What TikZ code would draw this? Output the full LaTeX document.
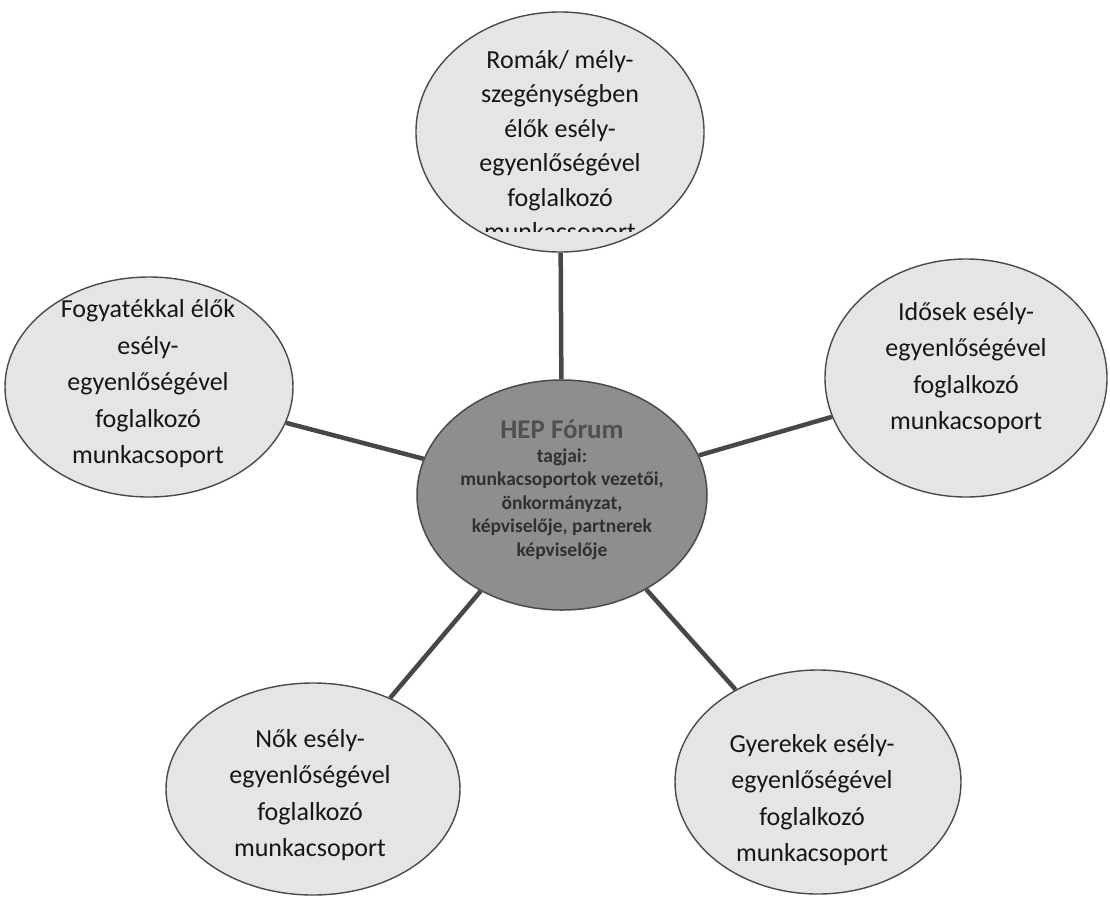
\documentclass[tikz,border=0pt]{standalone}
\usepackage{fontspec}
\setmainfont{Carlito}
\usetikzlibrary{shapes.geometric,backgrounds}
\definecolor{outerfill}{HTML}{E5E5E5}
\definecolor{hubfill}{HTML}{8E8E8E}
\definecolor{edgegray}{HTML}{4A4A4A}
\definecolor{linkgray}{HTML}{474747}
\definecolor{txt}{HTML}{161616}
\definecolor{hubtxt}{HTML}{303030}
\definecolor{hubhead}{HTML}{505050}
\begin{document}
\begin{tikzpicture}[x=1pt,y=-1pt,
 grp/.style={ellipse, draw=edgegray, line width=1.4pt, fill=outerfill, inner sep=0pt},
 hubstyle/.style={ellipse, draw=edgegray, line width=1.5pt, fill=hubfill, inner sep=0pt},
 lbl/.style={align=center, text=txt, font=\fontsize{26}{36.5}\selectfont, inner sep=0pt},
 hublbl/.style={align=center, text=hubtxt, font=\fontsize{19.5}{23.5}\selectfont\bfseries, inner sep=0pt},
 link/.style={draw=linkgray, line width=4.5pt}
]
\path[use as bounding box] (0,0) rectangle (1110,906);

\node[hubstyle, minimum width=290pt, minimum height=230pt] (hub) at (562,495) {};
\node[grp, minimum width=288pt, minimum height=240pt] (top) at (560,132) {};
\node[grp, minimum width=288pt, minimum height=220pt] (left) at (149,387) {};
\node[grp, minimum width=282pt, minimum height=238pt] (right) at (966,378) {};
\node[grp, minimum width=294pt, minimum height=212pt] (bl) at (313,789) {};
\node[grp, minimum width=286pt, minimum height=224pt] (br) at (818,782) {};

\begin{scope}[on background layer]
  \fill[white] (0,0) rectangle (1110,906);
  \draw[link] (hub) -- (top);
  \draw[link] (hub) -- (left);
  \draw[link] (hub) -- (right);
  \draw[link] (hub) -- (bl);
  \draw[link] (hub) -- (br);
\end{scope}

\begin{scope}
  \clip (300,0) rectangle (820,231);
  \node[lbl, anchor=north, font=\fontsize{26}{34.5}\selectfont] (ttop) at (560,50) {Romák/ mély-\\szegénységben\\élők esély-\\egyenlőségével\\foglalkozó\\munkacsoport};
\end{scope}
\node[lbl] (tleft) at (148,384) {Fogyatékkal élők\\esély-\\egyenlőségével\\foglalkozó\\munkacsoport};
\node[lbl] (tright) at (966,368) {Idősek esély-\\egyenlőségével\\foglalkozó\\munkacsoport};
\node[lbl] (tbl) at (310,795) {Nők esély-\\egyenlőségével\\foglalkozó\\munkacsoport};
\node[lbl] (tbr) at (812,800) {Gyerekek esély-\\egyenlőségével\\foglalkozó\\munkacsoport};
\node[hublbl] (thub) at (562,490) {{\color{hubhead}\fontsize{27}{27}\selectfont HEP Fórum}\\tagjai:\\munkacsoportok vezetői,\\önkormányzat,\\képviselője, partnerek\\képviselője};
\end{tikzpicture}
\end{document}
